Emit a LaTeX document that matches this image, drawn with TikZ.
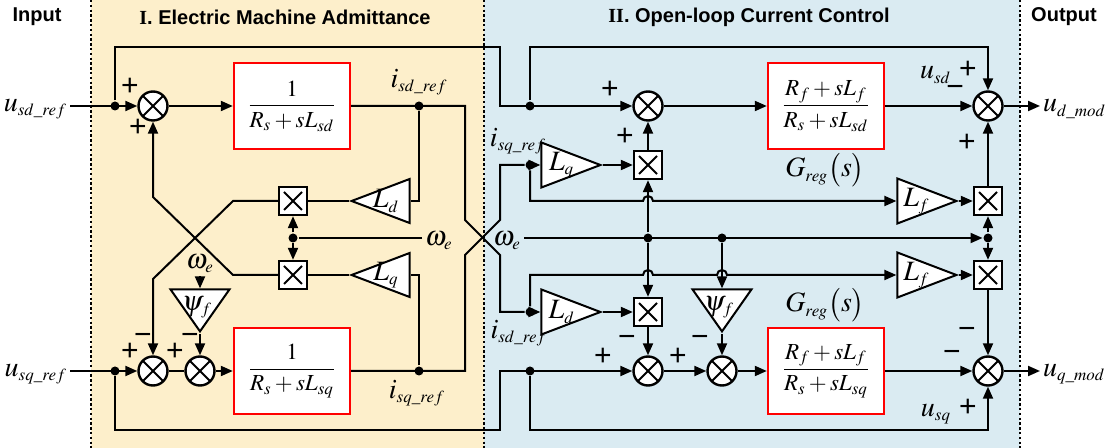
\documentclass[tikz,border=0pt]{standalone}
\usepackage{amsmath}
\usepackage{mathptmx}
\usepackage{fontspec}
\setmainfont{Liberation Serif}
\setsansfont{Liberation Sans}
\DeclareMathSizes{14}{14}{8.5}{7}
\usepackage{tikz}
\usetikzlibrary{shapes.geometric,arrows.meta,positioning,calc}
\definecolor{admbg}{HTML}{FDEFCB}
\definecolor{ctrlbg}{HTML}{DAEBF2}
\definecolor{tfred}{HTML}{FF0000}

\begin{document}
\begin{tikzpicture}[x=0.5pt,y=-0.5pt,
    line width=1pt,
    >={Triangle[length=6pt,width=5pt]},
    sumnode/.style={circle, draw, fill=white, minimum size=14.5pt, inner sep=0pt, line width=1.2pt,
        path picture={\draw[line width=1pt] (path picture bounding box.north west) -- (path picture bounding box.south east)
            (path picture bounding box.south west) -- (path picture bounding box.north east);}},
    multbox/.style={rectangle, draw, fill=white, minimum size=14pt, inner sep=0pt, line width=1.2pt,
        path picture={\draw[line width=0.9pt] ([shift={(-4.5pt,-4.5pt)}]path picture bounding box.center) -- ++(9pt,9pt)
            ([shift={(-4.5pt,4.5pt)}]path picture bounding box.center) -- ++(9pt,-9pt);}},
    tfbox/.style={rectangle, draw=tfred, fill=white, line width=1.2pt, minimum width=58pt,
        minimum height=43pt, inner sep=0pt, font=\fontsize{11.5}{13}\selectfont},
    gainbox/.style={isosceles triangle, isosceles triangle stretches, draw, fill=white,
        line width=1pt, inner sep=0pt},
    gainleft/.style={gainbox, shape border rotate=180, minimum width=22pt, minimum height=29pt},
    gainright/.style={gainbox, shape border rotate=0, minimum width=22.5pt, minimum height=29.5pt},
    gaindown/.style={gainbox, shape border rotate=270, minimum width=29.5pt, minimum height=21pt},
    gainlbl/.style={font=\fontsize{14}{16}\selectfont, inner sep=0pt},
    junc/.style={circle, fill, inner sep=0pt, minimum size=4.5pt},
    sig/.style={font=\sffamily\fontsize{15}{15}\selectfont, inner sep=0pt},
    var/.style={font=\fontsize{14}{16}\selectfont, inner sep=1pt},
    head/.style={font=\sffamily\bfseries},
]
\useasboundingbox (0,0) rectangle (1109,448);

% regions
\fill[admbg] (91,0) rectangle (484,448);
\fill[ctrlbg] (484,0) rectangle (1020,448);
\foreach \xs in {91,484,1020}
    \draw[line width=1pt, dash pattern=on 1.2pt off 1.2pt] (\xs,0) -- (\xs,448);

\node[head] (hin) at (37,17) {Input};
\node[head] (hadm) at (285,17) {{\rmfamily I}. Electric Machine Admittance};
\node[head] (hctl) at (749,17) {{\rmfamily II}. Open-loop Current Control};
\node[head] (hout) at (1064,17) {Output};

% I. machine admittance
\node[var, anchor=east] (usdref) at (70,109) {$u_{sd\_ref}$};
\node[var, anchor=east] (usqref) at (70,374) {$u_{sq\_ref}$};
\node[junc] (jd1) at (115,106) {};
\node[junc] (jq1) at (115,371) {};
\node[sumnode] (s1) at (153,106) {};
\node[sumnode] (s2) at (153,371) {};
\node[sumnode] (s3) at (200,371) {};
\node[tfbox] (tf1) at (292,106) {$\dfrac{1}{R_s+sL_{sd}}$};
\node[tfbox] (tf2) at (292,371) {$\dfrac{1}{R_s+sL_{sq}}$};
\node[junc] (jisd) at (419,106) {};
\node[junc] (jisq) at (419,371) {};
\node[var] (lisd) at (419,82) {$i_{sd\_ref}$};
\node[var] (lisq) at (417,393) {$i_{sq\_ref}$};
\node[multbox] (m1) at (293,201) {};
\node[multbox] (m2) at (293,275) {};
\node[junc] (jw1) at (293,238) {};
\node[gainleft, anchor=apex] (ld1) at (349,201) {};
\node[gainleft, anchor=apex] (lq1) at (349,275) {};
\node[gainlbl] (tld1) at ($(ld1.apex)!0.6!(ld1.lower side)$) {$L_d$};
\node[gainlbl] (tlq1) at ($(lq1.apex)!0.6!(lq1.lower side)$) {$L_q$};
\node[var, anchor=west] (wel) at (422,241) {$\omega_e$};
\node[gaindown, anchor=apex] (psi1) at (200,334) {};
\node[gainlbl] (tpsi1) at ($(psi1.lower side)!0.42!(psi1.apex)+(-3,0)$) {$\psi_f$};
\node[var] (wpsi) at (200,264) {$\omega_e$};

% II. open-loop current control
\node[junc] (jd2) at (530,106) {};
\node[junc] (jq2) at (530,371) {};
\node[sumnode] (s4) at (648,106) {};
\node[sumnode] (s5) at (648,371) {};
\node[sumnode] (s7) at (722,371) {};
\node[sumnode] (s6) at (988,106) {};
\node[sumnode] (s8) at (988,371) {};
\node[tfbox] (tf3) at (826,106) {$\dfrac{R_f+sL_f}{R_s+sL_{sd}}$};
\node[tfbox] (tf4) at (826,371) {$\dfrac{R_f+sL_f}{R_s+sL_{sq}}$};
\node[var] (greg1) at (825,170) {$G_{reg}\bigl(s\bigr)$};
\node[var] (greg2) at (825,305) {$G_{reg}\bigl(s\bigr)$};
\node[junc] (jisq2) at (530,165) {};
\node[junc] (jisd2) at (530,312) {};
\node[var] (lisq2) at (518,141) {$i_{sq\_ref}$};
\node[var] (lisd2) at (519,333) {$i_{sd\_ref}$};
\node[gainright, anchor=apex] (lq2) at (603,165) {};
\node[gainright, anchor=apex] (ld2) at (603,312) {};
\node[gainlbl] (tlq2) at ($(lq2.apex)!0.66!(lq2.lower side)$) {$L_q$};
\node[gainlbl] (tld2) at ($(ld2.apex)!0.66!(ld2.lower side)$) {$L_d$};
\node[multbox] (m3) at (648,165) {};
\node[multbox] (m4) at (648,312) {};
\node[gainright, anchor=apex] (lf1) at (959,201) {};
\node[gainright, anchor=apex] (lf2) at (959,275) {};
\node[gainlbl] (tlf1) at ($(lf1.apex)!0.68!(lf1.lower side)$) {$L_f$};
\node[gainlbl] (tlf2) at ($(lf2.apex)!0.68!(lf2.lower side)$) {$L_f$};
\node[multbox] (m5) at (988,201) {};
\node[multbox] (m6) at (988,275) {};
\node[junc] (jw2) at (648,238) {};
\node[junc] (jw3) at (722,238) {};
\node[junc] (jw4) at (988,238) {};
\node[var, anchor=east] (wer) at (524,241) {$\omega_e$};
\node[gaindown, anchor=apex] (psi2) at (722,334) {};
\node[gainlbl] (tpsi2) at ($(psi2.lower side)!0.42!(psi2.apex)+(-3,0)$) {$\psi_f$};
\node[var, anchor=east] (usd) at (954,75) {$u_{sd}$};
\node[var, anchor=east] (usq) at (954,414) {$u_{sq}$};
\node[var, anchor=west] (udmod) at (1040,109) {$u_{d\_mod}$};
\node[var, anchor=west] (uqmod) at (1040,374) {$u_{q\_mod}$};

% connectors, part I
\draw[->] (usdref.east |- s1) -- (s1);
\draw[->] (usqref.east |- s2) -- (s2);
\draw[->] (s1) -- (tf1);
\draw (s2) -- (s3);
\draw[->] (s3) -- (tf2);
\draw[->] (jd1) |- (500,47) |- (s4);
\draw[->] (jq1) |- (500,430) |- (s5);
\draw (tf1) -- (465,106) -- (465,220) -- (500,255) |- (jisd2);
\draw (tf2) -- (465,371) -- (465,255) -- (500,220) |- (jisq2);
\draw (jisd) |- (ld1.lower side);
\draw (jisq) |- (lq1.lower side);
\draw (ld1.apex) -- (m1);
\draw (lq1.apex) -- (m2);
\draw[->] (m1) -- (233,201) -- (153,279) -- (s2);
\draw[->] (m2) -- (233,275) -- (153,197) -- (s1);
\draw (wel.west |- jw1) -- (jw1);
\draw[->] (jw1) -- (m1);
\draw[->] (jw1) -- (m2);
\draw[->] (wpsi) -- (psi1.lower side);
\draw[->] (psi1.apex) -- (s3);

% connectors, part II
\draw[->] (jisq2) -- (lq2.lower side);
\draw[->] (jisd2) -- (ld2.lower side);
\draw[->] (lq2.apex) -- (m3);
\draw[->] (ld2.apex) -- (m4);
\draw[->] (m3) -- (s4);
\draw[->] (m4) -- (s5);
\draw[->] (s4) -- (tf3);
\draw[->] (s5) -- (s7);
\draw[->] (s7) -- (tf4);
\draw[->] (tf3) -- (s6);
\draw[->] (tf4) -- (s8);
\draw[->] (s6) -- (udmod.west |- s6);
\draw[->] (s8) -- (uqmod.west |- s8);
\draw[->] (jd2) |- (988,47) -- (s6);
\draw[->] (jq2) |- (988,430) -- (s8);
\draw[->] (jisq2) |- (643,201) arc[start angle=180, end angle=0, radius=2.5pt] -- (lf1.lower side);
\draw[->] (jisd2) |- (643,275) arc[start angle=180, end angle=0, radius=2.5pt]
    -- (717,275) arc[start angle=180, end angle=0, radius=2.5pt] -- (lf2.lower side);
\draw[->] (lf1.apex) -- (m5);
\draw[->] (lf2.apex) -- (m6);
\draw[->] (m5) -- (s6);
\draw[->] (m6) -- (s8);
\draw[->] (wer.east |- jw2) -- (jw4);
\draw[->] (jw2) -- (m3);
\draw[->] (jw2) -- (m4);
\draw[->] (jw3) -- (psi2.lower side);
\draw[->] (psi2.apex) -- (s7);
\draw[->] (jw4) -- (m5);
\draw[->] (jw4) -- (m6);

% signs
\node[sig] at (130,87) {+};
\node[sig] at (138,128) {+};
\node[sig] at (130,352) {+};
\node[sig] at (143,339) {−};
\node[sig] at (175,352) {+};
\node[sig] at (190,339) {−};
\node[sig] at (610,90) {+};
\node[sig] at (625,137) {+};
\node[sig] at (603,357) {+};
\node[sig] at (627,341) {−};
\node[sig] at (678,357) {+};
\node[sig] at (700,341) {−};
\node[sig] at (968,70) {+};
\node[sig] at (955,91) {−};
\node[sig] at (967,143) {+};
\node[sig] at (967,333) {−};
\node[sig] at (952,356) {−};
\node[sig] at (968,408) {+};

\end{tikzpicture}
\end{document}
